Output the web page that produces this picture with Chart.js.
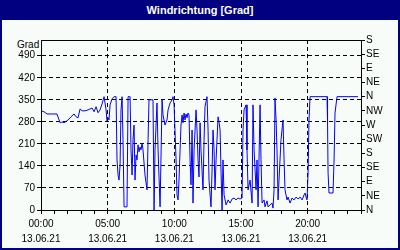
<!DOCTYPE html>
<html>
<head>
<meta charset="utf-8">
<script src="https://cdn.jsdelivr.net/npm/chart.js@4.4.1/dist/chart.umd.min.js"></script>
<style>
  html, body { margin: 0; padding: 0; }
  #frame { position: relative; width: 400px; height: 250px; background: #F8FCF8; overflow: hidden; }
  #title { height: 20px; background: #000080; color: #fff; font: bold 11px "Liberation Sans", Arial, sans-serif; text-align: center; line-height: 20px; }
  #edge { position: absolute; left: 0; top: 0; right: 0; bottom: 0; border: 2px solid #000080; pointer-events: none; }
  #unit { position: absolute; left: 17px; top: 39px; font: 10px "Liberation Sans", Arial, sans-serif; color: #000; }
  canvas { position: absolute; left: 0; top: 0; }
</style>
</head>
<body>
<div id="frame">
  <div id="title">Windrichtung [Grad]</div>
  <span id="unit">Grad</span>
  <canvas id="wind" width="400" height="250"></canvas>
  <div id="edge"></div>
</div>
<script>
// hours since 00:00 on 13.06.21, and wind direction in degrees
const hours = [
  0.00, 0.23, 0.45, 0.83, 1.20, 1.43, 1.58, 1.73, 2.03, 2.25, 2.48, 2.63, 2.78, 2.93,
  3.08, 3.30, 3.53, 3.68, 3.83, 3.98, 4.13, 4.28, 4.43, 4.58, 4.73, 4.88, 4.95,
  5.03, 5.10, 5.18, 5.33, 5.48, 5.63, 5.70, 5.78, 5.85, 5.93, 6.00, 6.08, 6.15, 6.23,
  6.45, 6.53, 6.68, 6.75, 6.83, 6.90, 6.98, 7.05, 7.13, 7.20, 7.28, 7.35, 7.43, 7.50,
  7.58, 7.65, 7.80, 7.95, 8.03, 8.10, 8.40, 8.48, 8.55, 8.70, 8.78, 8.93, 9.08, 9.15,
  9.30, 9.45, 9.53, 9.68,
  9.83, 9.90, 9.98, 10.13, 10.20, 10.28, 10.35, 10.43, 10.50, 10.58, 10.65, 10.73, 10.80, 10.88,
  10.95, 11.03, 11.10, 11.18, 11.25, 11.33, 11.40, 11.48, 11.63, 11.70, 11.78, 11.85, 11.93, 12.00,
  12.15, 12.23, 12.30, 12.45, 12.53, 12.60, 12.75, 12.83, 12.90, 12.98, 13.05, 13.13, 13.28, 13.35,
  13.43, 13.50, 13.58, 13.65, 13.73, 13.88, 14.03, 14.18, 14.33, 14.48, 14.63, 14.78, 14.93,
  15.08, 15.15, 15.23, 15.38, 15.45, 15.53, 15.68, 15.83, 15.90, 15.98, 16.13, 16.20, 16.28, 16.43,
  16.50, 16.58, 16.73, 16.80, 16.95, 17.03, 17.18, 17.33, 17.40, 17.48, 17.55, 17.63, 17.70, 17.78,
  17.85, 18.00, 18.15, 18.23, 18.30, 18.45, 18.53, 18.68, 18.83, 18.98, 19.13, 19.28, 19.43,
  19.58, 19.73, 19.80, 19.88, 19.95, 20.03, 20.10, 20.18, 21.45, 21.49, 21.53, 21.60, 21.90, 21.98,
  22.05, 22.20, 23.78
];
const degrees = [
  315, 312, 305, 305, 305, 277, 280, 277, 286, 296, 305, 296, 293, 321,
  315, 315, 318, 321, 324, 312, 328, 309, 318, 337, 360, 318, 283,
  293, 286, 334, 353, 360, 360, 159, 111, 95, 143, 318, 360, 223, 10,
  10, 360, 360, 191, 111, 223, 270, 95, 175, 159, 207, 185, 200, 191,
  213, 191, 111, 64, 223, 350, 350, 0, 191, 340, 191, 10, 350, 302,
  270, 286, 318, 340,
  350, 360, 334, 159, 48, 32, 95, 191, 270, 302, 277, 308, 286, 305,
  293, 308, 302, 159, 80, 254, 22, 191, 318, 254, 159, 105, 277, 191,
  64, 223, 328, 360, 254, 95, 10, 127, 254, 191, 64, 159, 296, 280,
  254, 127, 0, 159, 48, 16, 32, 22, 35, 38, 32, 38, 35,
  38, 254, 318, 334, 191, 64, 95, 22, 334, 191, 64, 159, 10, 334,
  159, 22, 32, 10, 29, 10, 16, 22, 6, 64, 356, 286, 191, 32,
  95, 223, 286, 159, 64, 32, 41, 22, 38, 32, 41, 35, 41,
  32, 48, 54, 41, 32, 118, 286, 360, 360, 280, 118, 54, 54, 159,
  308, 360, 360
];

const gradTicks = [0, 70, 140, 210, 280, 350, 420, 490];
const dirTicks = [0, 45, 90, 135, 180, 225, 270, 315, 360, 405, 450, 495, 540];
const dirLabels = ['N', 'NE', 'E', 'SE', 'S', 'SW', 'W', 'NW', 'N', 'NE', 'E', 'SE', 'S'];
const labelHours = [0, 5, 10, 15, 20];
const timeLabels = ['00:00', '05:00', '10:00', '15:00', '20:00'];
const dateLabel = '13.06.21';

const font = { family: '"Liberation Sans", Arial, sans-serif', size: 10 };
const hourTicks = Array.from({ length: 25 }, (_, i) => i);

// solid line along the top of the plot
const topLine = {
  id: 'topLine',
  afterDraw(chart) {
    const { ctx, chartArea: a } = chart;
    ctx.save();
    ctx.strokeStyle = '#000';
    ctx.lineWidth = 1;
    ctx.beginPath();
    ctx.moveTo(a.left, a.top + 0.5);
    ctx.lineTo(a.right, a.top + 0.5);
    ctx.stroke();
    ctx.restore();
  }
};

new Chart(document.getElementById('wind'), {
  type: 'line',
  data: {
    datasets: [{
      data: hours.map((h, i) => ({ x: h, y: degrees[i] })),
      borderColor: '#0000FF',
      borderWidth: 1,
      pointRadius: 0,
      tension: 0,
      yAxisID: 'y'
    }]
  },
  options: {
    responsive: false,
    animation: false,
    layout: { padding: { top: 40, left: 0, right: 0, bottom: 0 } },
    plugins: { legend: { display: false }, tooltip: { enabled: false } },
    scales: {
      x: {
        type: 'linear',
        min: 0,
        max: 24,
        afterBuildTicks: s => { s.ticks = hourTicks.map(v => ({ value: v })); },
        afterFit: s => { s.height = 40; },
        ticks: {
          color: '#000',
          font: { ...font, lineHeight: 1.5 },
          padding: 3,
          maxRotation: 0,
          autoSkip: false,
          callback: v => {
            const i = labelHours.indexOf(v);
            return i < 0 ? '' : [timeLabels[i], dateLabel];
          }
        },
        grid: {
          color: ctx => (ctx.tick && ctx.tick.value % 5 === 0 && ctx.tick.value > 0 && ctx.tick.value < 24) ? '#000' : 'rgba(0,0,0,0)',
          tickColor: '#000',
          tickLength: 4
        },
        border: { color: '#000', dash: [4, 3] }
      },
      y: {
        position: 'left',
        min: 0,
        max: 540,
        afterBuildTicks: s => { s.ticks = gradTicks.map(v => ({ value: v })); },
        afterFit: s => { s.width = 41; },
        ticks: { color: '#000', font, padding: 2, autoSkip: false },
        grid: { color: '#000', tickColor: '#000', tickLength: 4 },
        border: { color: '#000', dash: [4, 3] }
      },
      y2: {
        position: 'right',
        min: 0,
        max: 540,
        afterBuildTicks: s => { s.ticks = dirTicks.map(v => ({ value: v })); },
        afterFit: s => { s.width = 39; },
        ticks: { color: '#000', font, padding: 1, autoSkip: false, callback: (v, i) => dirLabels[i] },
        grid: { drawOnChartArea: false, tickColor: '#000', tickLength: 4 },
        border: { color: '#000' }
      }
    }
  },
  plugins: [topLine]
});
</script>
</body>
</html>
